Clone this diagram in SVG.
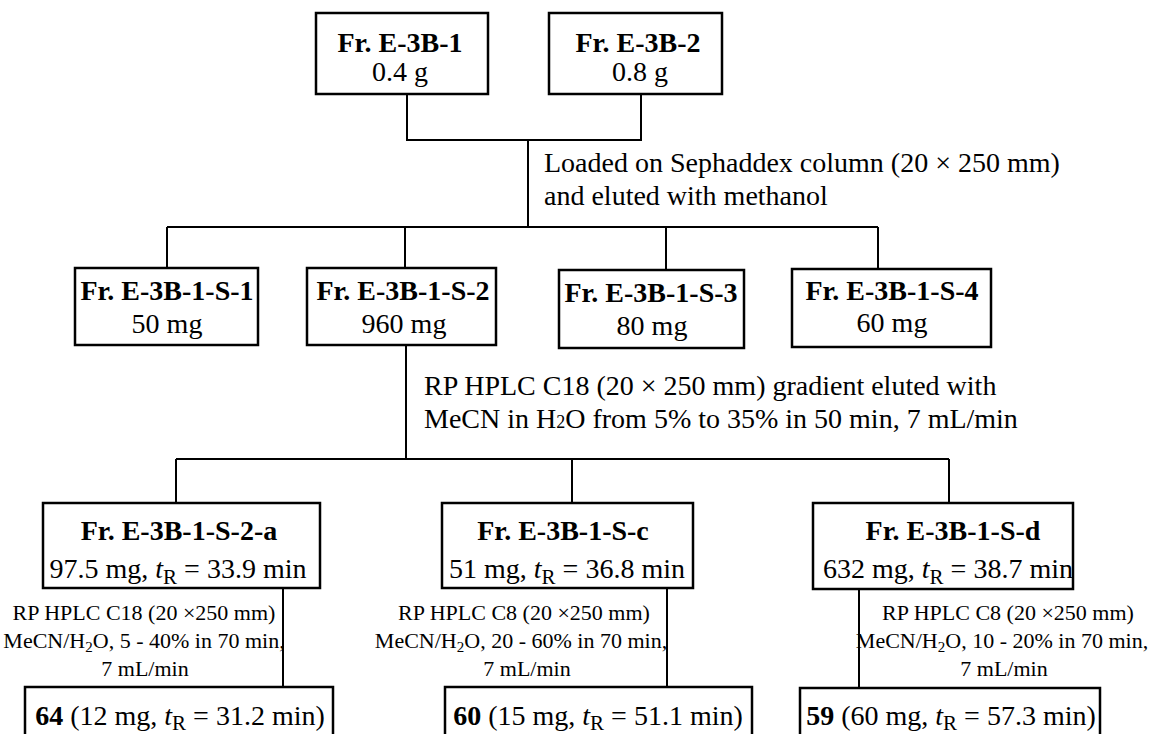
<svg xmlns="http://www.w3.org/2000/svg" width="1152" height="734" viewBox="0 0 1152 734">
  <style>
    .box { fill: #ffffff; stroke: #000000; stroke-width: 2.5; }
    .wire { fill: none; stroke: #000000; stroke-width: 2; }
    text { font-family: "Liberation Serif", "Times New Roman", serif; fill: #000000; }
    .t { font-size: 28px; text-anchor: middle; }
    .b { font-weight: bold; }
    .note { font-size: 28px; }
    .cond { font-size: 22px; text-anchor: middle; }
    .sub { font-size: 21px; }
    .it { font-style: italic; }
  </style>

  <!-- connectors -->
  <g id="connectors" class="wire">
    <!-- E-3B-1 + E-3B-2 merged -->
    <polyline points="407,94 407,140 641,140 641,94"/>
    <line x1="528" y1="140" x2="528" y2="227"/>
    <!-- Sephadex fractions -->
    <line x1="167" y1="227" x2="878" y2="227"/>
    <line x1="167" y1="227" x2="167" y2="268"/>
    <line x1="405" y1="227" x2="405" y2="268"/>
    <line x1="666" y1="227" x2="666" y2="270"/>
    <line x1="878" y1="227" x2="878" y2="269"/>
    <!-- HPLC of S-2 -->
    <line x1="406" y1="345" x2="406" y2="459"/>
    <line x1="176" y1="459" x2="949" y2="459"/>
    <line x1="176" y1="459" x2="176" y2="503"/>
    <line x1="572" y1="459" x2="572" y2="503"/>
    <line x1="949" y1="459" x2="949" y2="503"/>
    <!-- final purifications -->
    <line x1="283" y1="588" x2="283" y2="687"/>
    <line x1="667" y1="588" x2="667" y2="687"/>
    <line x1="859" y1="589" x2="859" y2="688"/>
  </g>

  <!-- step conditions -->
  <g id="step-sephadex">
    <text class="note" x="544" y="172">Loaded on Sephaddex column (20 × 250 mm)</text>
    <text class="note" x="544" y="205">and eluted with methanol</text>
  </g>
  <g id="step-hplc">
    <text class="note" x="424" y="395">RP HPLC C18 (20 × 250 mm) gradient eluted with</text>
    <text class="note" x="424" y="428">MeCN in H<tspan font-size="18px">2</tspan>O from 5% to 35% in 50 min, 7 mL/min</text>
  </g>

  <!-- first level -->
  <g id="node-e3b1">
    <rect class="box" x="316" y="13" width="172" height="81"/>
    <text class="t b" x="400" y="52">Fr. E-3B-1</text>
    <text class="t" x="400" y="81">0.4 g</text>
  </g>
  <g id="node-e3b2">
    <rect class="box" x="549" y="13" width="173" height="81"/>
    <text class="t b" x="638" y="52">Fr. E-3B-2</text>
    <text class="t" x="640" y="81">0.8 g</text>
  </g>

  <!-- Sephadex fractions -->
  <g id="node-s1">
    <rect class="box" x="75" y="268" width="183" height="77"/>
    <text class="t b" x="167" y="300">Fr. E-3B-1-S-1</text>
    <text class="t" x="167" y="333">50 mg</text>
  </g>
  <g id="node-s2">
    <rect class="box" x="307" y="268" width="189" height="77"/>
    <text class="t b" x="403" y="300">Fr. E-3B-1-S-2</text>
    <text class="t" x="404" y="333">960 mg</text>
  </g>
  <g id="node-s3">
    <rect class="box" x="559" y="270" width="185" height="78"/>
    <text class="t b" x="651" y="302">Fr. E-3B-1-S-3</text>
    <text class="t" x="652" y="335">80 mg</text>
  </g>
  <g id="node-s4">
    <rect class="box" x="792" y="269" width="199" height="78"/>
    <text class="t b" x="892" y="300">Fr. E-3B-1-S-4</text>
    <text class="t" x="892" y="332">60 mg</text>
  </g>

  <!-- HPLC fractions -->
  <g id="node-s2a">
    <rect class="box" x="43" y="503" width="277" height="85"/>
    <text class="t b" x="179" y="540">Fr. E-3B-1-S-2-a</text>
    <text class="t" x="178" y="578">97.5 mg, <tspan class="it">t</tspan><tspan class="sub" dy="6">R</tspan><tspan dy="-6"> = 33.9 min</tspan></text>
  </g>
  <g id="node-sc">
    <rect class="box" x="442" y="503" width="251" height="85"/>
    <text class="t b" x="563" y="540">Fr. E-3B-1-S-c</text>
    <text class="t" x="567" y="578">51 mg, <tspan class="it">t</tspan><tspan class="sub" dy="6">R</tspan><tspan dy="-6"> = 36.8 min</tspan></text>
  </g>
  <g id="node-sd">
    <rect class="box" x="813" y="503" width="260" height="86"/>
    <text class="t b" x="953" y="540">Fr. E-3B-1-S-d</text>
    <text class="t" x="948" y="578">632 mg, <tspan class="it">t</tspan><tspan class="sub" dy="6">R</tspan><tspan dy="-6"> = 38.7 min</tspan></text>
  </g>

  <!-- final HPLC conditions -->
  <g id="cond-a">
    <text class="cond" x="144" y="620">RP HPLC C18 (20 ×250 mm)</text>
    <text class="cond" x="144" y="648">MeCN/H<tspan font-size="15px" dy="4">2</tspan><tspan dy="-4">O, 5 - 40% in 70 min,</tspan></text>
    <text class="cond" x="145" y="676">7 mL/min</text>
  </g>
  <g id="cond-c">
    <text class="cond" x="524" y="620">RP HPLC C8 (20 ×250 mm)</text>
    <text class="cond" x="521" y="648">MeCN/H<tspan font-size="15px" dy="4">2</tspan><tspan dy="-4">O, 20 - 60% in 70 min,</tspan></text>
    <text class="cond" x="527" y="676">7 mL/min</text>
  </g>
  <g id="cond-d">
    <text class="cond" x="1008" y="620">RP HPLC C8 (20 ×250 mm)</text>
    <text class="cond" x="1002" y="648">MeCN/H<tspan font-size="15px" dy="4">2</tspan><tspan dy="-4">O, 10 - 20% in 70 min,</tspan></text>
    <text class="cond" x="1004" y="676">7 mL/min</text>
  </g>

  <!-- isolated compounds -->
  <g id="node-64">
    <rect class="box" x="25" y="687" width="308" height="60"/>
    <text class="t" x="180" y="725"><tspan class="b">64</tspan> (12 mg, <tspan class="it">t</tspan><tspan class="sub" dy="5">R</tspan><tspan dy="-5"> = 31.2 min)</tspan></text>
  </g>
  <g id="node-60">
    <rect class="box" x="445" y="687" width="307" height="60"/>
    <text class="t" x="598" y="725"><tspan class="b">60</tspan> (15 mg, <tspan class="it">t</tspan><tspan class="sub" dy="5">R</tspan><tspan dy="-5"> = 51.1 min)</tspan></text>
  </g>
  <g id="node-59">
    <rect class="box" x="800" y="688" width="300" height="60"/>
    <text class="t" x="951" y="725"><tspan class="b">59</tspan> (60 mg, <tspan class="it">t</tspan><tspan class="sub" dy="5">R</tspan><tspan dy="-5"> = 57.3 min)</tspan></text>
  </g>
</svg>
